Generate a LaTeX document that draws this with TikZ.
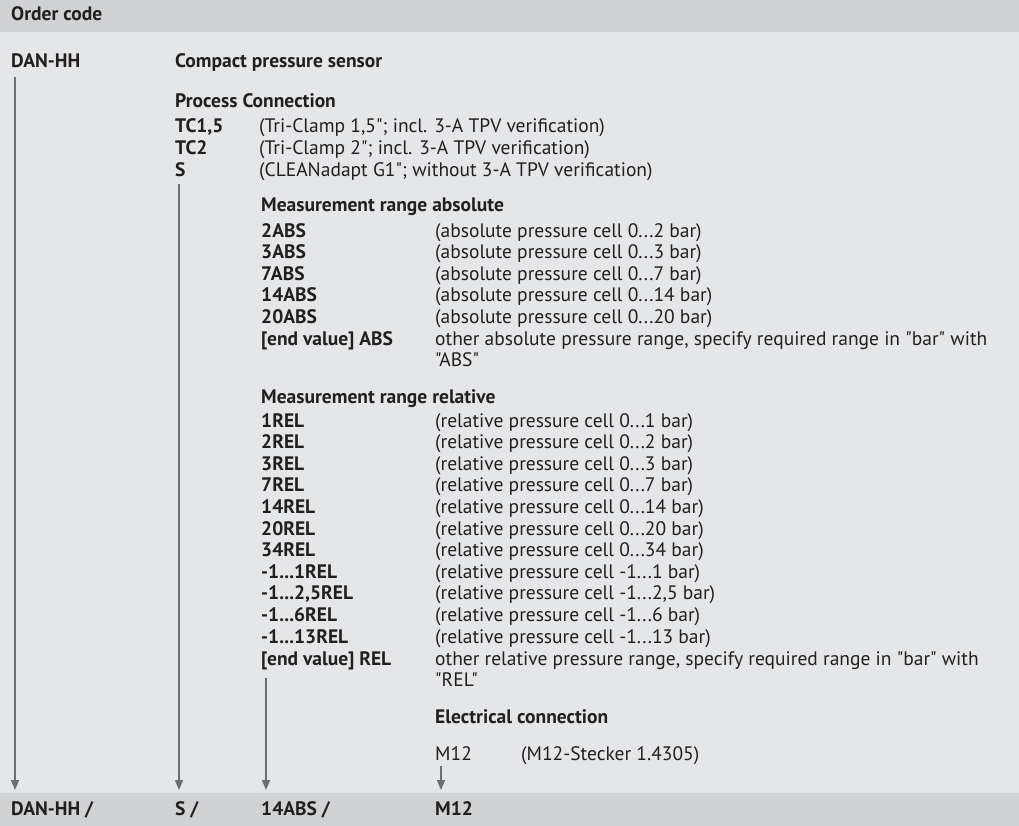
\documentclass[tikz,border=0pt]{standalone}
\usepackage{fontspec}
\setmainfont{PT Sans}[Ligatures=TeXReset]
\usetikzlibrary{arrows.meta}
\definecolor{barbg}{HTML}{D1D2D4}
\definecolor{pagebg}{HTML}{E5E6E8}
\definecolor{ink}{HTML}{231F20}
\definecolor{arrowgray}{HTML}{6D6E70}
\newcommand\dotsx{...}

\begin{document}
\begin{tikzpicture}[x=1pt,y=-1pt,>={Triangle[length=10pt,width=8pt]},
    every node/.style={inner sep=0pt,anchor=base west,text=ink,
      font=\fontsize{19.5}{21.6}\selectfont}]
  \tikzset{code/.style={font=\fontsize{19.5}{21.6}\selectfont\bfseries},
    flow/.style={->,draw=arrowgray,fill=arrowgray,line width=1.3pt}}
  \def \xa{11}
  \def \xb{175}
  \def \xc{261}
  \def \xd{435}
  \def \xp{259}
  \def \dy{21.6}
  % background and bars
  \fill[pagebg] (0,0) rectangle (1019,826);
  \fill[barbg] (0,0) rectangle (1019,32);
  \fill[barbg] (0,793) rectangle (1019,826);
  \node[code] (title) at (\xa,21) {Order code};
  \node[code] (danhh) at (\xa,68) {DAN-HH};
  \node[code] (sensor) at (\xb,68) {Compact pressure sensor};
  % process connection
  \node[code] (prochd) at (\xb,108) {Process Connection};
  \node[code] (tc15) at (\xb,133) {TC1,5};
  \node (tc15d) at (\xp,133) {(Tri-Clamp 1,5"; incl. 3-A TPV verification)};
  \node[code] (tc2) at (\xb,155) {TC2};
  \node (tc2d) at (\xp,155) {(Tri-Clamp 2"; incl. 3-A TPV verification)};
  \node[code] (sconn) at (\xb,177) {S};
  \node (sconnd) at (\xp,177) {(CLEANadapt G1"; without 3-A TPV verification)};
  % absolute range
  \node[code] (abshd) at (\xc,212) {Measurement range absolute};
  \foreach \c/\r [count=\i] in {2ABS/2,3ABS/3,7ABS/7,14ABS/14,20ABS/20}
  {
    \node[code] (abs\i) at (\xc,{237+\dy*(\i-1)}) {\c};
    \node (absd\i) at (\xd,{237+\dy*(\i-1)}) {(absolute pressure cell 0\dotsx\r\ bar)};
  }
  \node[code] (absend) at (\xc,345) {[end value] ABS};
  \node[align=left] (absendd) at (\xd,366.6)
    {other absolute pressure range, specify required range in "bar" with\\"ABS"};
  % relative range
  \node[code] (relhd) at (\xc,403) {Measurement range relative};
  \foreach \c/\r [count=\i] in {1REL/0\dotsx1,2REL/0\dotsx2,3REL/0\dotsx3,
      7REL/0\dotsx7,14REL/0\dotsx14,20REL/0\dotsx20,34REL/0\dotsx34,
      -1\dotsx1REL/-1\dotsx1,-1\dotsx2{,}5REL/-1\dotsx2{,}5,
      -1\dotsx6REL/-1\dotsx6,-1\dotsx13REL/-1\dotsx13}
  {
    \node[code] (rel\i) at (\xc,{427+\dy*(\i-1)}) {\c};
    \node (reld\i) at (\xd,{427+\dy*(\i-1)}) {(relative pressure cell \r\ bar)};
  }
  \node[code] (relend) at (\xc,665) {[end value] REL};
  \node[align=left] (relendd) at (\xd,686.6)
    {other relative pressure range, specify required range in "bar" with\\"REL"};
  % electrical connection
  \node[code] (elhd) at (\xd,723) {Electrical connection};
  \node (m12) at (\xd,760) {M12};
  \node (m12d) at (521,760) {(M12-Stecker 1.4305)};
  % result line
  \node[code] (botdan) at (\xa,815) {DAN-HH /};
  \node[code] (bots) at (\xb,815) {S /};
  \node[code] (botabs) at (\xc,815) {14ABS /};
  \node[code] (botm12) at (\xd,815) {M12};
  \draw[flow] ([xshift=4pt,yshift=-9pt]danhh.base west) -- ([xshift=4pt,yshift=25pt]botdan.base west);
  \draw[flow] ([xshift=4pt,yshift=-7pt]sconn.base west) -- ([xshift=4pt,yshift=25pt]bots.base west);
  \draw[flow] ([xshift=5pt,yshift=-13pt]relend.base west) -- ([xshift=5pt,yshift=25pt]botabs.base west);
  \draw[flow] ([xshift=6pt,yshift=-6pt]m12.base west) -- ([xshift=6pt,yshift=25pt]botm12.base west);
\end{tikzpicture}
\end{document}
